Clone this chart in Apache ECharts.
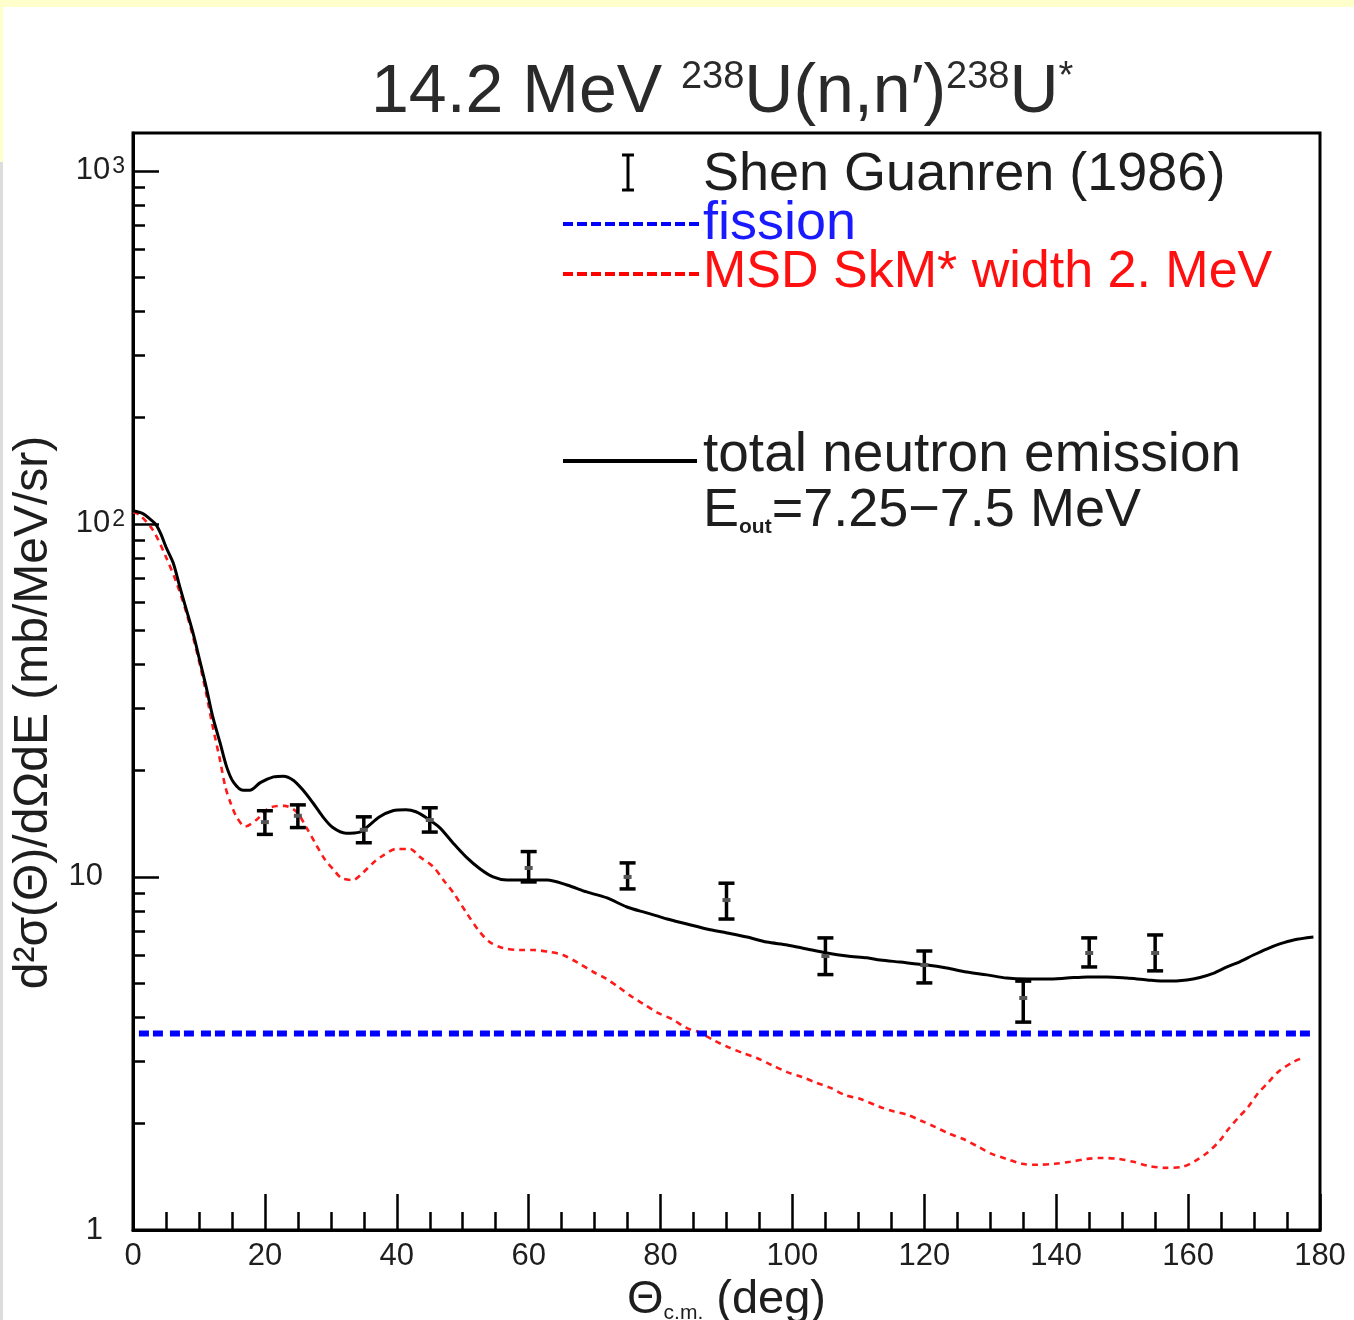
<!DOCTYPE html>
<html>
<head>
<meta charset="utf-8">
<script src="https://cdn.jsdelivr.net/npm/echarts@6/dist/echarts.min.js"></script>
<style>
html,body{margin:0;padding:0;background:#fff;}
#c{width:1354px;height:1320px;}
</style>
</head>
<body>
<div id="c"></div>
<script>
// ---- data ----
var xTickLabels = [0, 20, 40, 60, 80, 100, 120, 140, 160, 180];
var yMajorTicks = [1, 10, 100, 1000];
var yMinorTicks = [2,3,4,5,6,7,8,9,20,30,40,50,60,70,80,90,200,300,400,500,600,700,800,900];

// total neutron emission (black solid)  [angle, value]
var totalCurve = [
  [0,109],[1.5,107],[2.5,103.5],[3.5,99.4],[4.3,93],[5,86],[6.1,77.5],[7.1,66.3],[8.1,57.1],[9.1,49.1],[10.1,41.2],
  [11.1,34.5],[12.1,28.4],[13.2,24.0],[14.2,20.5],[15.2,18.6],[16.7,17.6],[17.7,17.6],[19.3,18.5],
  [21.3,19.2],[22.8,19.3],[24.3,18.8],[25.8,17.6],[27.3,16.2],[28.8,14.8],[30.3,13.8],[32.3,13.3],
  [34.4,13.4],[35.4,13.8],[37.4,14.8],[39.4,15.4],[41.4,15.5],[42.9,15.3],[44.5,14.7],[46.5,13.8],
  [48.5,12.5],[50.5,11.4],[52.6,10.55],[54.6,10.0],[56.7,9.80],[59.7,9.80],[62.8,9.80],[65.8,9.49],
  [68.8,9.07],[71.9,8.72],[74.9,8.22],[77.9,7.91],[81.0,7.60],[84.0,7.36],[87.0,7.12],[90.1,6.94],
  [93.1,6.76],[96.1,6.54],[99.2,6.42],[102.2,6.25],[105.2,6.09],[108.3,5.97],[111.3,5.90],[113.3,5.82],
  [116.3,5.74],[120.4,5.63],[123.4,5.52],[126.4,5.38],[129.5,5.28],[132.5,5.17],[135.5,5.14],[138.6,5.14],
  [141.6,5.17],[144.7,5.21],[147.7,5.21],[150.7,5.17],[153.8,5.11],[156.8,5.07],[159.8,5.11],[161.8,5.19],
  [163.8,5.33],[165.9,5.56],[167.9,5.76],[169.9,6.01],[171.9,6.25],[173.9,6.46],[176.0,6.63],[179.0,6.76]
];

// MSD SkM* width 2. MeV (red dotted)  [angle, value]
var msdCurve = [
  [0,108],[1,106],[3,96.2],[5,80.6],[6.6,68.1],[8.1,56.0],[9.6,44.0],[10.9,34.5],[12.1,26.6],
  [13.2,21.4],[14.0,18.0],[14.8,16.2],[15.7,14.8],[17.0,13.9],[18.7,14.5],[20.7,15.7],[23.0,15.9],
  [24.8,15.3],[26.3,13.8],[27.6,12.5],[29.1,11.2],[30.4,10.5],[31.6,9.93],[33.3,9.80],[34.9,10.3],
  [36.4,10.96],[37.9,11.5],[39.9,12.0],[42.0,12.0],[43.5,11.4],[45.5,10.7],[47.3,9.68],[48.6,9.01],
  [50.6,7.9],[52.6,6.98],[54.1,6.54],[56.1,6.29],[58.7,6.21],[60.7,6.21],[63.2,6.13],[65.2,6.01],
  [67.5,5.71],[69.8,5.38],[71.6,5.17],[73.6,4.88],[75.7,4.57],[77.4,4.37],[79.6,4.12],[81.7,3.96],
  [84.0,3.73],[85.7,3.64],[88.3,3.43],[90.2,3.30],[92.5,3.17],[94.6,3.07],[96.9,2.93],[99.2,2.80],
  [101.5,2.71],[103.7,2.61],[105.7,2.53],[108.0,2.41],[110.3,2.35],[113.3,2.23],[115.3,2.17],[117.4,2.12],
  [119.5,2.04],[121.6,1.96],[123.6,1.88],[125.9,1.81],[128.2,1.72],[130.3,1.64],[132.5,1.59],[134.8,1.54],
  [137.2,1.53],[139.8,1.54],[142.1,1.56],[144.7,1.59],[147.0,1.60],[149.4,1.59],[151.7,1.56],[153.9,1.52],
  [156.5,1.50],[159.1,1.51],[161.1,1.57],[163.0,1.66],[164.8,1.79],[166.0,1.92],[167.6,2.08],[169.1,2.23],
  [170.6,2.44],[172.1,2.61],[173.6,2.80],[175.9,2.99],[177.7,3.09]
];

// fission (blue dashed)
var fissionX = [0.9, 179.3];
var fissionY = [3.6, 3.6];

// Shen Guanren (1986) experimental points
var expX    = [20,   25,   35,   45,   60,   75,    90,  105,  120,  135,  145,  155];
var expY    = [14.3, 14.9, 13.6, 14.5, 10.6, 10.0,  8.6, 5.97, 5.63, 4.54, 6.09, 6.09];
var expLow  = [13.2, 13.8, 12.5, 13.4, 9.68, 9.25,  7.6, 5.29, 5.01, 3.88, 5.56, 5.42];
var expHigh = [15.4, 16.0, 14.8, 15.7, 11.8, 10.96, 9.6, 6.72, 6.17, 5.07, 6.72, 6.85];

// ---- chart ----
var FONT = '"Liberation Sans", Arial, Helvetica, sans-serif';
var TXT = '#1e1e1e';
var chart = echarts.init(document.getElementById('c'), null, {renderer: 'canvas'});

var fissionData = fissionX.map(function (x, i) { return [x, fissionY[i]]; });
var expData = expX.map(function (x, i) { return [x, expY[i], expLow[i], expHigh[i]]; });

var option = {
  backgroundColor: '#ffffff',
  animation: false,
  title: {
    text: '14.2 MeV {s|238}U(n,n\u2032){s|238}U{s|*}',
    left: 366,
    top: 54,
    textStyle: {
      fontFamily: FONT, fontSize: 68, fontWeight: 'normal', color: '#2a2a2a',
      rich: { s: { fontFamily: FONT, fontSize: 38, color: '#2a2a2a', verticalAlign: 'top' } }
    }
  },
  grid: {
    left: 133, top: 133, right: 34, bottom: 90,
    outerBoundsMode: 'none', containLabel: false,
    show: true, borderColor: '#000', borderWidth: 3, backgroundColor: 'transparent'
  },
  xAxis: {
    type: 'value', min: 0, max: 180, interval: 20,
    axisLine: { show: true, lineStyle: { color: '#000', width: 3 } },
    axisTick: { show: true, inside: true, length: 36, lineStyle: { color: '#000', width: 2.5 } },
    minorTick: { show: true, splitNumber: 4, length: 18, lineStyle: { color: '#000', width: 2.5 } },
    splitLine: { show: false },
    axisLabel: {
      fontFamily: FONT, fontSize: 31, color: TXT, margin: 11,
      customValues: xTickLabels
    },
    name: '{a|\u0398}{b|c.m.}{a| (deg)}',
    nameLocation: 'middle',
    nameGap: 44,
    nameTextStyle: {
      rich: {
        a: { fontFamily: FONT, fontSize: 47, color: TXT },
        b: { fontFamily: FONT, fontSize: 21, color: TXT, verticalAlign: 'bottom' }
      }
    }
  },
  yAxis: [{
    type: 'log', logBase: 10, min: 1, max: 1280,
    axisLine: { show: true, lineStyle: { color: '#000', width: 3 } },
    axisTick: { show: true, inside: true, length: 26, lineStyle: { color: '#000', width: 2.5 }, customValues: yMajorTicks },
    minorTick: { show: false },
    splitLine: { show: false },
    axisLabel: {
      customValues: yMajorTicks,
      margin: 8,
      fontFamily: FONT, fontSize: 31, color: TXT,
      formatter: function (v) {
        var r = Math.round(v);
        if (r === 1) return '1{p|}';
        if (r === 10) return '10{p|}';
        if (r === 100) return '10{s|2}';
        if (r === 1000) return '10{s|3}';
        return '';
      },
      rich: {
        p: { width: 22 },
        s: { fontFamily: FONT, fontSize: 23, color: TXT, verticalAlign: 'top', padding: [0, 0, 0, 2] }
      }
    },
    name: 'd\u00b2\u03c3(\u0398)/d\u03a9dE (mb/MeV/sr)',
    nameLocation: 'middle',
    nameGap: 70,
    nameTextStyle: { fontFamily: FONT, fontSize: 48, color: TXT, padding: [0, 62, 0, 0] }
  }, {
    type: 'log', logBase: 10, min: 1, max: 1280, position: 'left',
    axisLine: { show: false },
    axisTick: { show: true, inside: true, length: 12, lineStyle: { color: '#000', width: 2.5 }, customValues: yMinorTicks },
    axisLabel: { show: false },
    splitLine: { show: false }
  }],
  series: [
    {
      name: 'MSD SkM* width 2. MeV', type: 'line', yAxisIndex: 0,
      data: msdCurve, showSymbol: false, symbol: 'none', smooth: 0.3,
      lineStyle: { color: '#ff1a1a', width: 2.6, type: [6, 5] }, z: 2
    },
    {
      name: 'total neutron emission', type: 'line', yAxisIndex: 0,
      data: totalCurve, showSymbol: false, symbol: 'none', smooth: 0.3,
      lineStyle: { color: '#000', width: 3 }, z: 3
    },
    {
      name: 'fission', type: 'line', yAxisIndex: 0,
      data: fissionData, showSymbol: false, symbol: 'none',
      lineStyle: { color: '#0000ff', width: 6, type: [10, 4, 10, 7] }, z: 4
    },
    {
      name: 'Shen Guanren (1986)', type: 'custom', yAxisIndex: 0,
      data: expData, encode: { x: 0, y: 1 }, z: 5,
      renderItem: function (params, api) {
        var x = api.value(0);
        var pc = api.coord([x, api.value(1)]);
        var pl = api.coord([x, api.value(2)]);
        var ph = api.coord([x, api.value(3)]);
        var hw = 8;
        var st = { stroke: '#000', lineWidth: 3.5 };
        return {
          type: 'group',
          children: [
            { type: 'line', shape: { x1: pl[0], y1: pl[1], x2: ph[0], y2: ph[1] }, style: st },
            { type: 'line', shape: { x1: pl[0] - hw, y1: pl[1], x2: pl[0] + hw, y2: pl[1] }, style: st },
            { type: 'line', shape: { x1: ph[0] - hw, y1: ph[1], x2: ph[0] + hw, y2: ph[1] }, style: st },
            { type: 'rect', shape: { x: pc[0] - 4, y: pc[1] - 2, width: 8, height: 4 }, style: { fill: '#555' } }
          ]
        };
      }
    }
  ],
  graphic: [
    // screenshot frame strips
    { type: 'rect', z: -10, silent: true, shape: { x: 0, y: 0, width: 1354, height: 7 }, style: { fill: '#ffffcc' } },
    { type: 'rect', z: -10, silent: true, shape: { x: 0, y: 0, width: 3, height: 162 }, style: { fill: '#ffffcc' } },
    { type: 'rect', z: -10, silent: true, shape: { x: 0, y: 162, width: 3, height: 1158 }, style: { fill: '#dcdcdc' } },
    // legend: experimental
    { type: 'line', shape: { x1: 628, y1: 155, x2: 628, y2: 190 }, style: { stroke: '#000', lineWidth: 3 } },
    { type: 'line', shape: { x1: 622, y1: 155, x2: 634, y2: 155 }, style: { stroke: '#000', lineWidth: 3 } },
    { type: 'line', shape: { x1: 622, y1: 190, x2: 634, y2: 190 }, style: { stroke: '#000', lineWidth: 3 } },
    { type: 'text', style: { x: 703, y: 175, text: 'Shen Guanren (1986)', font: '54px ' + FONT, fill: TXT, verticalAlign: 'middle' } },
    // legend: fission
    { type: 'line', shape: { x1: 563, y1: 224, x2: 700, y2: 224 }, style: { stroke: '#0000ff', lineWidth: 4, lineDash: [10, 4] } },
    { type: 'text', style: { x: 703, y: 224, text: 'fission', font: '54px ' + FONT, fill: '#1a1aff', verticalAlign: 'middle' } },
    // legend: MSD
    { type: 'line', shape: { x1: 563, y1: 274, x2: 700, y2: 274 }, style: { stroke: '#ff0000', lineWidth: 4, lineDash: [10, 4] } },
    { type: 'text', style: { x: 703, y: 273, text: 'MSD SkM* width 2. MeV', font: '52px ' + FONT, fill: '#ff1010', verticalAlign: 'middle' } },
    // legend: total
    { type: 'line', shape: { x1: 563, y1: 461, x2: 697, y2: 461 }, style: { stroke: '#000', lineWidth: 4 } },
    { type: 'text', style: { x: 703, y: 456, text: 'total neutron emission', font: '55px ' + FONT, fill: TXT, verticalAlign: 'middle' } },
    {
      type: 'text',
      style: {
        x: 703, y: 511, text: '{n|E}{s|out}{n|=7.25\u22127.5 MeV}', verticalAlign: 'middle',
        rich: {
          n: { fontFamily: FONT, fontSize: 54, color: TXT, fill: TXT },
          s: { fontFamily: FONT, fontSize: 21, fontWeight: 'bold', color: TXT, fill: TXT, verticalAlign: 'bottom' }
        }
      }
    }
  ]
};
chart.setOption(option);
</script>
</body>
</html>
